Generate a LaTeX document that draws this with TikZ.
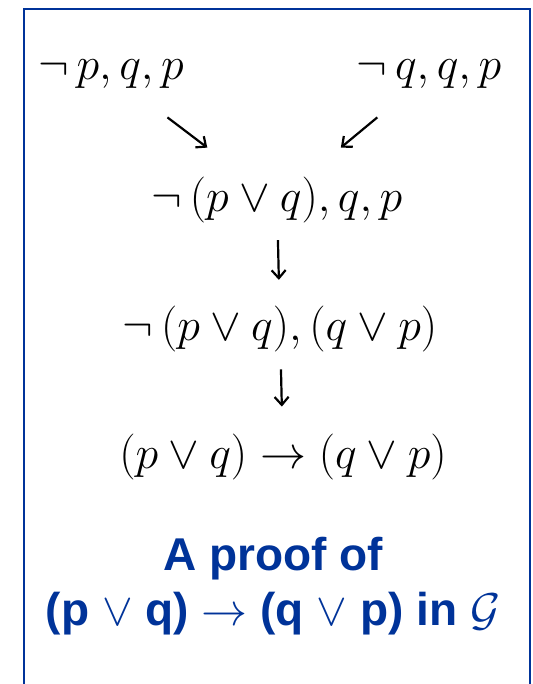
\RequirePackage{fix-cm}
\documentclass[tikz,border=0pt]{standalone}
\usepackage{fontspec}
\newfontfamily\capfont{Liberation Sans}
\usetikzlibrary{calc,arrows.meta}
\definecolor{frameblue}{RGB}{0,51,153}
\begin{document}
\begin{tikzpicture}[x=0.5pt,y=-0.5pt,
    seq/.style={anchor=base, inner sep=0pt, font=\fontsize{23}{28}\selectfont},
    caption/.style={anchor=north, inner sep=0pt, align=center, text=frameblue, font=\capfont\bfseries\fontsize{23}{27.5}\selectfont},
    rule/.style={-{Straight Barb[length=4pt,width=7pt]}, line width=1.1pt}]
    \useasboundingbox (0,0) rectangle (533,684);
    % frame, open at the bottom
    \draw[frameblue, line width=1.4pt] (24,684) -- (24,9) -- (530,9) -- (530,684);

    \node[seq] (lt) at (111,80) {$\neg\, p, q, p$};
    \node[seq] (rt) at (429,80) {$\neg\, q, q, p$};
    \node[seq] (mid) at (277,212) {$\neg\, (p \vee q), q, p$};
    \node[seq] (dis) at (280,340) {$\neg\, (p \vee q), (q \vee p)$};
    \node[seq] (goal) at (283,468) {$(p \vee q) \rightarrow (q \vee p)$};

    \draw[rule] ($(lt)!0.34!(mid)$) -- ($(lt)!0.58!(mid)$);
    \draw[rule] ($(rt)!0.34!(mid)$) -- ($(rt)!0.58!(mid)$);
    \draw[rule] ($(mid)!0.31!(dis)$) -- ($(mid)!0.62!(dis)$);
    \draw[rule] ($(dis)!0.32!(goal)$) -- ($(dis)!0.61!(goal)$);

    \node[caption] (cap) at (273,537) {A proof of\\(p $\vee$ q) $\rightarrow$ (q $\vee$ p) in $\mathcal{G}$};
\end{tikzpicture}
\end{document}
